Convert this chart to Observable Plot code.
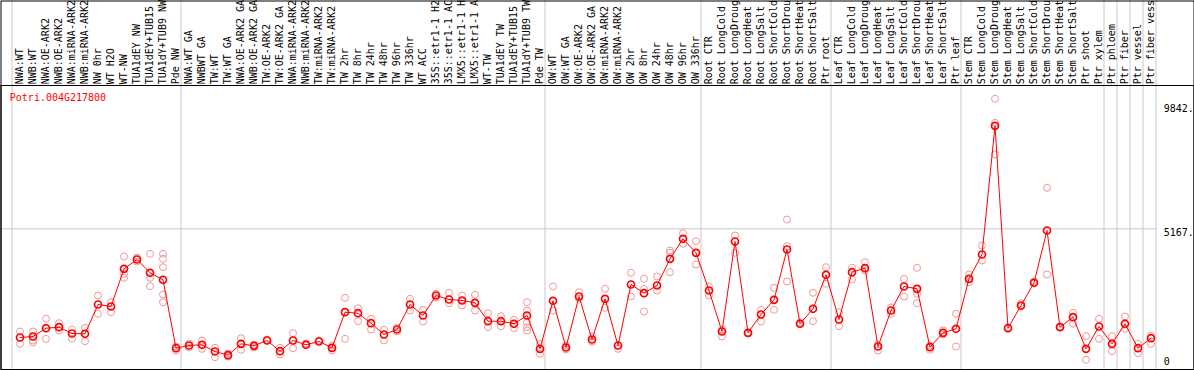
<!DOCTYPE html>
<html><head><meta charset="utf-8">
<script src="https://cdn.jsdelivr.net/npm/d3@7"></script>
<script src="https://cdn.jsdelivr.net/npm/@observablehq/plot@0.6"></script>
<style>body{margin:0;background:#fff} svg{display:block;overflow:hidden}</style>
</head><body><div id="chart"></div>
<script>
const gene = "Potri.004G217800";
const samples = ["NWA:WT","NWB:WT","NWA:OE-ARK2","NWB:OE-ARK2","NWA:miRNA-ARK2","NWB:miRNA-ARK2","NW 0hr","WT H2O","WT-NW","TUA1dEY NW","TUA1dEY+TUB15 NW","TUA1dY+TUB9 NW","Pde NW",
"NWA:WT GA","NWBWT GA","TW:WT","TW:WT GA","NWA:OE-ARK2 GA","NWB:OE-ARK2 GA","TW:OE-ARK2","TW:OE-ARK2 GA","NWA:miRNA-ARK2 GA","NWB:miRNA-ARK2 GA","TW:miRNA-ARK2","TW:miRNA-ARK2 GA",
"TW 2hr","TW 8hr","TW 24hr","TW 48hr","TW 96hr","TW 336hr","WT ACC","35S::etr1-1 H2O","35S::etr1-1 ACC","LMX5::etr1-1 H2O","LMX5::etr1-1 ACC","WT-TW","TUA1dEY TW","TUA1dEY+TUB15 TW","TUA1dY+TUB9 TW","Pde TW",
"OW:WT","OW:WT GA","OW:OE-ARK2","OW:OE-ARK2 GA","OW:miRNA-ARK2","OW:miRNA-ARK2 GA","OW 2hr","OW 8hr","OW 24hr","OW 48hr","OW 96hr","OW 336hr",
"Root CTR","Root LongCold","Root LongDrought","Root LongHeat","Root LongSalt","Root ShortCold","Root ShortDrought","Root ShortHeat","Root ShortSalt","Ptr root",
"Leaf CTR","Leaf LongCold","Leaf LongDrought","Leaf LongHeat","Leaf LongSalt","Leaf ShortCold","Leaf ShortDrought","Leaf ShortHeat","Leaf ShortSalt","Ptr leaf",
"Stem CTR","Stem LongCold","Stem LongDrought","Stem LongHeat","Stem LongSalt","Stem ShortCold","Stem ShortDrought","Stem ShortHeat","Stem ShortSalt","Ptr shoot","Ptr xylem",
"Ptr phloem","Ptr fiber","Ptr vessel","Ptr fiber vessel"];
const means = [1079,1117,1429,1467,1230,1219,2320,2245,3663,4013,3513,3250,677,
779,805,553,414,842,767,967,564,967,805,929,692,
2031,1993,1617,1192,1380,2320,1907,2659,2509,2471,2384,1692,1692,1595,1907,654,
2460,703,2621,1004,2535,779,3073,2746,3035,4039,4792,4265,
2847,1305,4690,1256,1944,2497,4389,1595,2159,3438,
1756,3535,3686,741,2095,2998,2911,715,1256,1407,
3287,4201,9041,1429,2283,3137,5104,1467,1843,654,1493,
842,1595,677,1053];
const replicates = [[1305,842],[1305,967,891],[1783,1030],[1617,1343],[1369,1030],[1444,940],[2659,1971],[2407,2031],[4126,3475,3325],[4088,3938],[4227,3325,3009],[4227,4039,3723,2697,2407],[590,741],
[854,703],[967,654],[692,338],[478,365],[1053,617],[816,703],[1004],[692,440],[1241,677],[854],[967],[590,779],
[2573,1030],[2181,1692],[1783,1380],[1369,967],[1456,1305],[2535,2095],[2121,1681],[2723,2584],[2761,2369],[2659,2283],[2685,2095],[1993,1467],[1881,1504],[1745,1429],[2407,2095,1655,1467,1343],[842,466],
[2998,2095],[628,779],[2783,2546],[1117,929],[2911,2196],[654],[3513,2621],[3287,2911,2057],[3374,2847],[4351,4265,3535],[5002,4603],[4701,3825],
[2998,2659],[1117,1380],[4915,4265],[1230],[2121,1681],[2949,2121],[5517,4513,3186],[1644],[2761,1692],[3723,3099],
[2031,1504],[3701,3261],[3911,3599],[590,816],[1971,2208],[3287,2621],[3701,2723,2369],[617,779],[1343,1192],[1971,741],
[3449,3159],[4540,3975],[10057,9154,7962],[1456],[2369,2245],[3186],[6710,3449],[1493],[2008,1595],[1128,241],[1783,1030],
[1128,564],[1869,1407],[842,489],[1155,842]];
const separatorsAfter = ["Pde NW","Pde TW","OW 336hr","Ptr root","Ptr leaf","Ptr xylem","Ptr phloem","Ptr fiber","Ptr vessel","Ptr fiber vessel"];
const yTicks = [5167, 9842];
const zeroTick = [0];
const labelChars = 14; // the reference shows at most 14 characters of each sample name

const meanRows = samples.map((s, i) => ({sample: s, value: means[i]}));
const repRows = samples.flatMap((s, i) => replicates[i].map(v => ({sample: s, value: v})));

const chart = Plot.plot({
  width: 1194, height: 370,
  marginTop: 85, marginBottom: 1, marginLeft: 12.5, marginRight: 36.8,
  style: {fontFamily: "'DejaVu Sans Mono', monospace", fontSize: "10px", background: "#fff", color: "#000"},
  x: {type: "band", domain: samples, padding: 0},
  y: {domain: [-124, 10557]},
  marks: [
    Plot.ruleY(yTicks.slice(0, 1), {stroke: "#c8c8c8", strokeOpacity: 1, insetLeft: -12.5}),
    Plot.ruleX(separatorsAfter, {stroke: "#c8c8c8", strokeOpacity: 1, dx: 5, insetTop: -85}),
    Plot.ruleX(samples.slice(0, 1), {stroke: "#c8c8c8", strokeOpacity: 1, dx: -8, insetTop: -85}),
    Plot.frame({stroke: "#000", insetLeft: -12, insetRight: -36.3}),
    Plot.frame({stroke: "#000", insetTop: -84.5, insetLeft: -12, insetRight: -36.3}),
    Plot.axisX({anchor: "top", label: null, tickSize: 0, tickRotate: -90, tickPadding: 1.2, fontSize: 10, fill: "#000",
      tickFormat: d => d.slice(0, labelChars).trimEnd()}),
    Plot.axisY({anchor: "right", label: null, ticks: yTicks, tickSize: 0, tickPadding: 6, textAnchor: "start", lineAnchor: "top", tickFormat: d => d + ".", fontSize: 10, fill: "#000"}),
    Plot.axisY({anchor: "right", label: null, ticks: zeroTick, tickSize: 0, tickPadding: 6, textAnchor: "start", dy: -4, tickFormat: d => String(d), fontSize: 10, fill: "#000"}),
    Plot.dot(repRows, {x: "sample", y: "value", r: 3.5, stroke: "#f09898", strokeWidth: 1}),
    Plot.line(meanRows, {x: "sample", y: "value", stroke: "#ff0000", strokeWidth: 1}),
    Plot.dot(meanRows, {x: "sample", y: "value", r: 3.5, stroke: "#ff0000", strokeWidth: 1.7}),
    Plot.text([gene], {frameAnchor: "top-left", textAnchor: "start", lineAnchor: "top", dx: -3.2, dy: 8.5, fill: "#ff0000", fontSize: 10})
  ]
});
document.getElementById("chart").appendChild(chart);
</script>
</body></html>
